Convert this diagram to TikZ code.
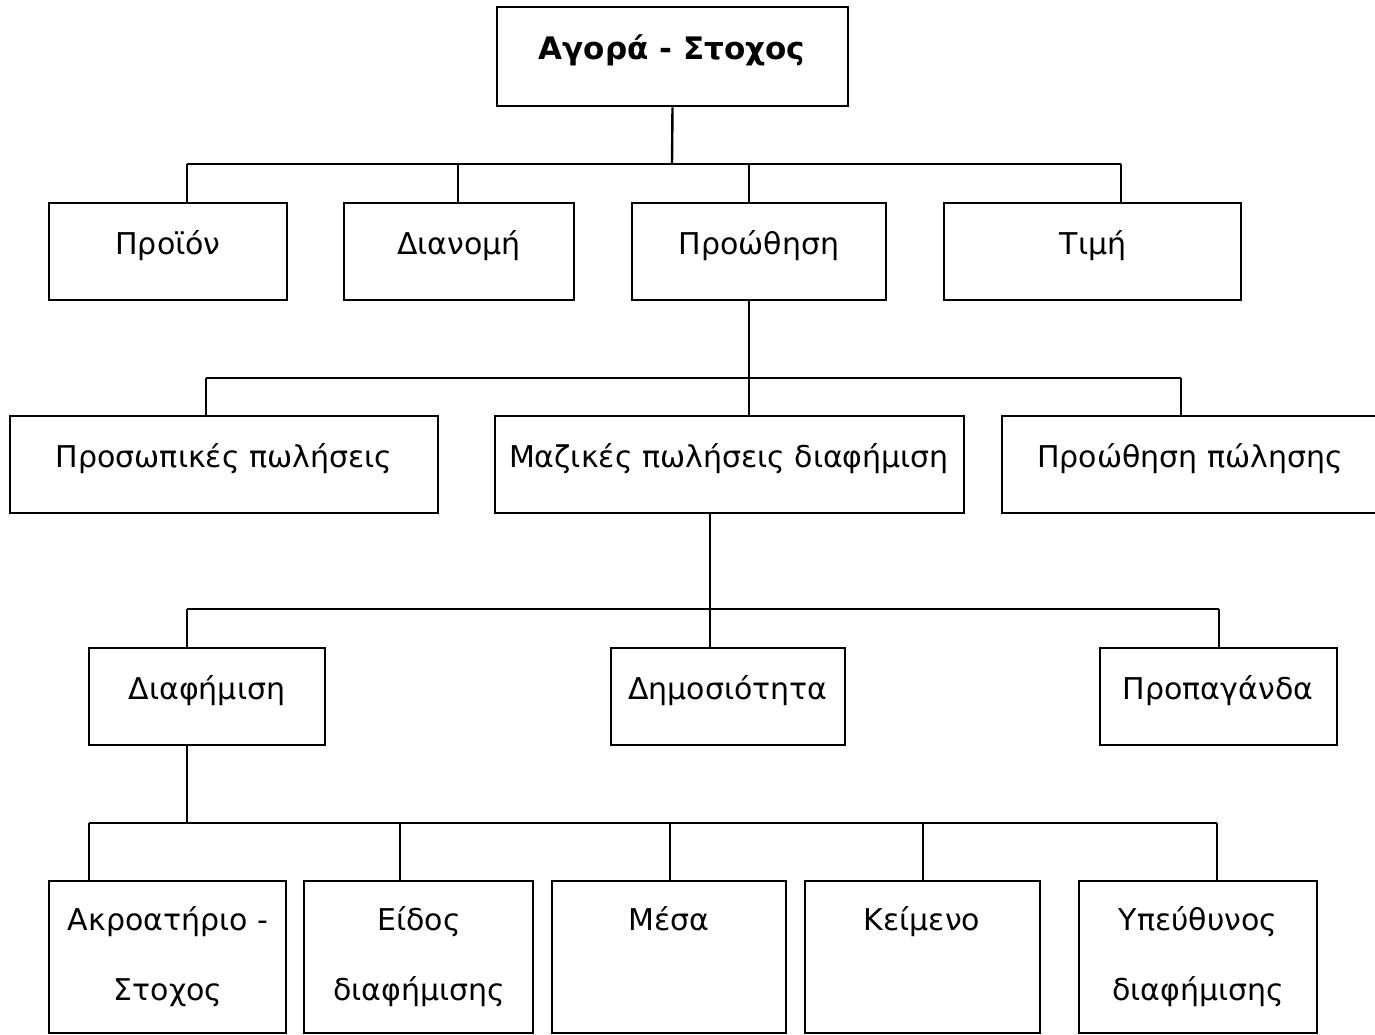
\documentclass[tikz,border=0pt]{standalone}
\usepackage{fontspec}
\setmainfont{DejaVu Sans}
\begin{document}
\begin{tikzpicture}[x=1pt,y=-1pt,
  boxst/.style={draw=black,line width=2.6pt,inner sep=0pt,fill=none},
  lbl/.style={anchor=base,inner sep=0pt,font=\fontsize{30}{34}\selectfont},
  lblb/.style={anchor=base,inner sep=0pt,font=\fontsize{31}{34}\selectfont\bfseries},
  conn/.style={draw=black,line width=2.4pt}]
\useasboundingbox[fill=white] (0,0) rectangle (1375,1035);
% ---- boxes (drawn as nodes placed by corners)
\newcommand{\mkbox}[5]{\node[boxst,minimum width={#4-#2},minimum height={#5-#3}] (#1) at ({(#2+#4)/2},{(#3+#5)/2}) {};}
\mkbox{top}{497}{7}{848}{106}
\mkbox{prod}{49}{203}{287}{300}
\mkbox{dian}{344}{203}{574}{300}
\mkbox{prom}{632}{203}{886}{300}
\mkbox{tim}{944}{203}{1241}{300}
\mkbox{pros}{10}{416}{438}{513}
\mkbox{maz}{495}{416}{964}{513}
\mkbox{prp}{1002}{416}{1385}{513}
\mkbox{diaf}{89}{648}{325}{745}
\mkbox{dim}{611}{648}{845}{745}
\mkbox{prop}{1100}{648}{1337}{745}
\mkbox{akr}{49}{881}{286}{1033}
\mkbox{eid}{304}{881}{533}{1033}
\mkbox{mes}{552}{881}{786}{1033}
\mkbox{kei}{805}{881}{1040}{1033}
\mkbox{ype}{1079}{881}{1317}{1033}
% ---- labels
\node[lblb] (ttop) at (672,60) {Αγορά - Στοχος};
\node[lbl] (tprod) at (168,254) {Προϊόν};
\node[lbl] (tdian) at (459,254) {Διανομή};
\node[lbl] (tprom) at (759,254) {Προώθηση};
\node[lbl] (ttim) at (1093,254) {Τιμή};
\node[lbl] (tpros) at (224,467) {Προσωπικές πωλήσεις};
\node[lbl] (tmaz) at (729,467) {Μαζικές πωλήσεις διαφήμιση};
\node[lbl] (tprp) at (1190,467) {Προώθηση πώλησης};
\node[lbl] (tdiaf) at (207,699) {Διαφήμιση};
\node[lbl] (tdim) at (728,699) {Δημοσιότητα};
\node[lbl] (tprop) at (1218,699) {Προπαγάνδα};
\node[lbl] (takr1) at (168,930) {Ακροατήριο -};
\node[lbl] (takr2) at (168,1000) {Στοχος};
\node[lbl] (teid1) at (419,930) {Είδος};
\node[lbl] (teid2) at (419,1000) {διαφήμισης};
\node[lbl] (tmes) at (669,930) {Μέσα};
\node[lbl] (tkei) at (922,930) {Κείμενο};
\node[lbl] (type1) at (1198,930) {Υπεύθυνος};
\node[lbl] (type2) at (1198,1000) {διαφήμισης};
% ---- level 1 connectors
\coordinate (a0) at (672,164);
\coordinate (a1) at (187,164);
\coordinate (a2) at (458,164);
\coordinate (a3) at (749,164);
\coordinate (a4) at (1121,164);
\draw[conn] (top.south) -- (a0);
\draw[conn] (a1) -- (a4);
\draw[conn] (a1) -- (prod.north -| a1);
\draw[conn] (a2) -- (dian.north -| a2);
\draw[conn] (a3) -- (prom.north -| a3);
\draw[conn] (a4) -- (tim.north -| a4);
% ---- level 2 connectors
\coordinate (b0) at (749,378);
\coordinate (b1) at (206,378);
\coordinate (b3) at (1181,378);
\draw[conn] (prom.south -| b0) -- (b0);
\draw[conn] (b1) -- (b3);
\draw[conn] (b1) -- (pros.north -| b1);
\draw[conn] (b0) -- (maz.north -| b0);
\draw[conn] (b3) -- (prp.north -| b3);
% ---- level 3 connectors
\coordinate (c0) at (710,609);
\coordinate (c1) at (187,609);
\coordinate (c3) at (1219,609);
\draw[conn] (maz.south -| c0) -- (c0);
\draw[conn] (c1) -- (c3);
\draw[conn] (c1) -- (diaf.north -| c1);
\draw[conn] (c0) -- (dim.north -| c0);
\draw[conn] (c3) -- (prop.north -| c3);
% ---- level 4 connectors
\coordinate (e0) at (187,823);
\coordinate (e1) at (89,823);
\coordinate (e2) at (400,823);
\coordinate (e3) at (670,823);
\coordinate (e4) at (923,823);
\coordinate (e5) at (1217,823);
\draw[conn] (diaf.south -| e0) -- (e0);
\draw[conn] (e1) -- (e5);
\draw[conn] (e1) -- (akr.north -| e1);
\draw[conn] (e2) -- (eid.north -| e2);
\draw[conn] (e3) -- (mes.north -| e3);
\draw[conn] (e4) -- (kei.north -| e4);
\draw[conn] (e5) -- (ype.north -| e5);
\end{tikzpicture}
\end{document}
